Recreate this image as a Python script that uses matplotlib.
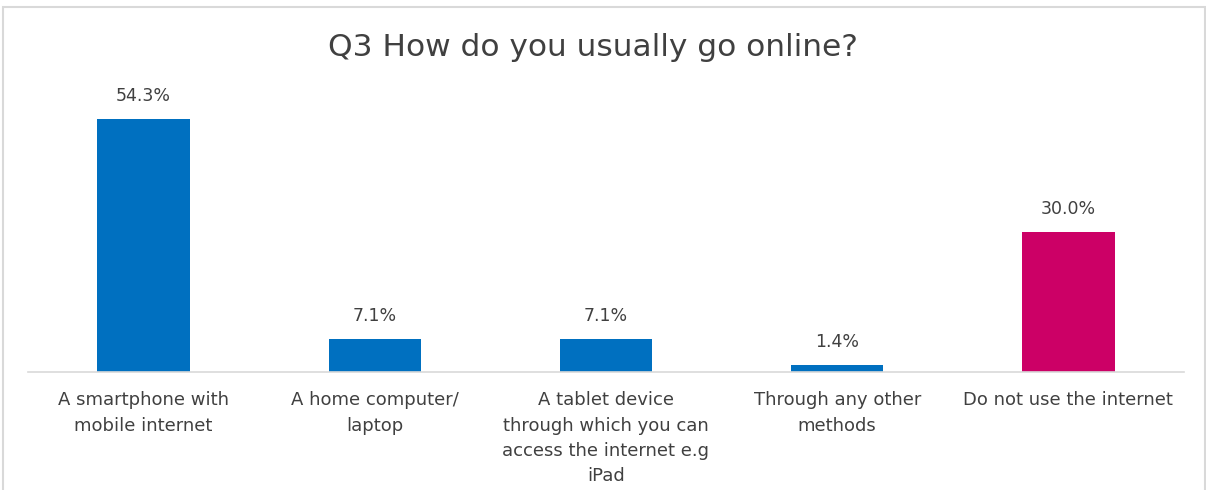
import matplotlib.pyplot as plt
import numpy as np
from matplotlib.patches import Rectangle

categories = [
    "A smartphone with\nmobile internet",
    "A home computer/\nlaptop",
    "A tablet device\nthrough which you can\naccess the internet e.g\niPad",
    "Through any other\nmethods",
    "Do not use the internet",
]
values = [54.3, 7.1, 7.1, 1.4, 30.0]
colors = ["#0070C0", "#0070C0", "#0070C0", "#0070C0", "#CC0066"]

W, H = 1206, 490
fig = plt.figure(figsize=(W / 100, H / 100), dpi=100)
plt.rcParams['font.family'] = ['DejaVu Sans']
text_color = "#404040"

# light frame around the chart area
fig.patches.append(Rectangle((3 / W, -0.05), (1205 - 3) / W, 1.05 - 7.5 / H,
                             transform=fig.transFigure, fill=False,
                             edgecolor="#D9D9D9", linewidth=1.5))

ax = fig.add_axes([28 / W, (H - 372) / H, (1184 - 28) / W, 280 / H])
x = np.arange(len(values))
bars = ax.bar(x, values, width=0.4, color=colors)
ax.set_xlim(-0.5, len(values) - 0.5)
ax.set_ylim(0, 60)

for b, v in zip(bars, values):
    ax.text(b.get_x() + b.get_width() / 2, v + 3.0, "{:.1f}%".format(v),
            ha="center", va="bottom", fontsize=12.5, color=text_color)

for s in ["top", "right", "left"]:
    ax.spines[s].set_visible(False)
ax.spines["bottom"].set_color("#D9D9D9")
ax.spines["bottom"].set_linewidth(1.2)
ax.set_yticks([])
ax.set_xticks(x)
ax.set_xticklabels(categories, fontsize=13, color=text_color, linespacing=1.52)
ax.tick_params(axis="x", length=0, pad=14)

fig.text(593 / W, 1 - 48 / H, "Q3 How do you usually go online?",
         ha="center", va="center", fontsize=22.5, color=text_color)

fig.savefig("out.png", dpi=100)
